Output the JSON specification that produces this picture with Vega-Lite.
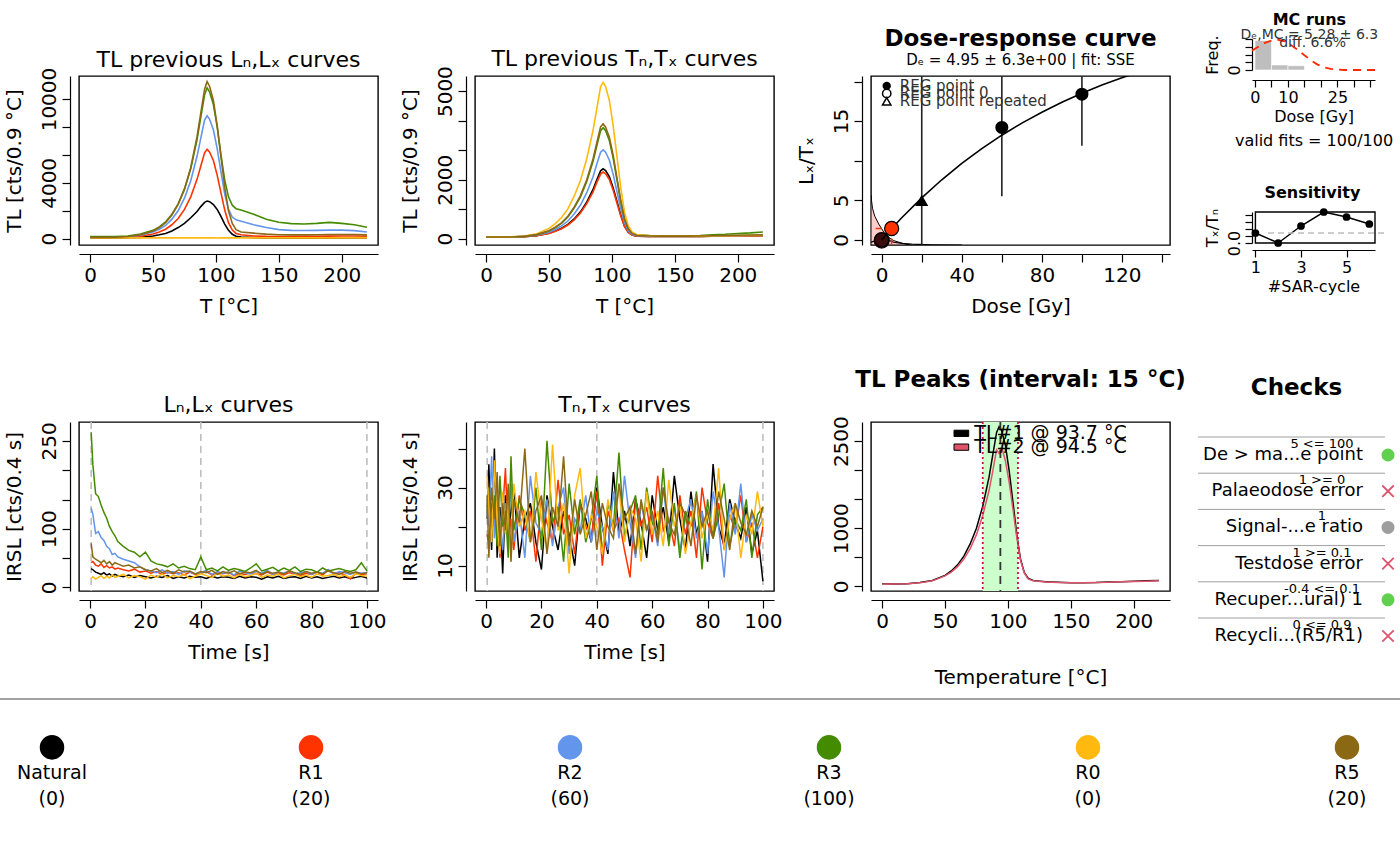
{
  "$schema": "https://vega.github.io/schema/vega-lite/v6.json",
  "autosize": {"type": "none"},
  "padding": {"left": 79, "top": 76, "right": 1321, "bottom": 790},
  "background": "white",
  "bounds": "flush",
  "columns": 4,
  "spacing": {"row": 177, "column": 97},
  "resolve": {"scale": {"color": "independent", "shape": "independent"}},
  "datasets": {
    "tlL": [
      {"T":0,"s":"Natural","v":60},{"T":10,"s":"Natural","v":60},{"T":20,"s":"Natural","v":60},{"T":30,"s":"Natural","v":70},{"T":40,"s":"Natural","v":100},{"T":50,"s":"Natural","v":200},{"T":55,"s":"Natural","v":280},{"T":60,"s":"Natural","v":380},{"T":65,"s":"Natural","v":560},{"T":70,"s":"Natural","v":800},{"T":75,"s":"Natural","v":1100},{"T":80,"s":"Natural","v":1500},{"T":85,"s":"Natural","v":1950},{"T":88,"s":"Natural","v":2300},{"T":91,"s":"Natural","v":2600},{"T":93,"s":"Natural","v":2700},{"T":95,"s":"Natural","v":2650},{"T":98,"s":"Natural","v":2450},{"T":101,"s":"Natural","v":2100},{"T":104,"s":"Natural","v":1600},{"T":107,"s":"Natural","v":1050},{"T":110,"s":"Natural","v":600},{"T":113,"s":"Natural","v":320},{"T":116,"s":"Natural","v":180},{"T":120,"s":"Natural","v":120},{"T":130,"s":"Natural","v":80},{"T":140,"s":"Natural","v":60},{"T":150,"s":"Natural","v":60},{"T":160,"s":"Natural","v":60},{"T":170,"s":"Natural","v":60},{"T":180,"s":"Natural","v":60},{"T":190,"s":"Natural","v":60},{"T":200,"s":"Natural","v":60},{"T":210,"s":"Natural","v":60},{"T":220,"s":"Natural","v":60},
      {"T":0,"s":"R1","v":80},{"T":10,"s":"R1","v":80},{"T":20,"s":"R1","v":90},{"T":30,"s":"R1","v":120},{"T":40,"s":"R1","v":190},{"T":50,"s":"R1","v":340},{"T":55,"s":"R1","v":480},{"T":60,"s":"R1","v":680},{"T":65,"s":"R1","v":1000},{"T":70,"s":"R1","v":1450},{"T":75,"s":"R1","v":2100},{"T":80,"s":"R1","v":3000},{"T":85,"s":"R1","v":4250},{"T":88,"s":"R1","v":5200},{"T":91,"s":"R1","v":6150},{"T":93,"s":"R1","v":6400},{"T":95,"s":"R1","v":6200},{"T":98,"s":"R1","v":5600},{"T":101,"s":"R1","v":4550},{"T":104,"s":"R1","v":3300},{"T":107,"s":"R1","v":2050},{"T":110,"s":"R1","v":1150},{"T":113,"s":"R1","v":620},{"T":116,"s":"R1","v":380},{"T":120,"s":"R1","v":280},{"T":130,"s":"R1","v":200},{"T":140,"s":"R1","v":170},{"T":150,"s":"R1","v":160},{"T":160,"s":"R1","v":160},{"T":170,"s":"R1","v":170},{"T":180,"s":"R1","v":180},{"T":190,"s":"R1","v":190},{"T":200,"s":"R1","v":200},{"T":210,"s":"R1","v":200},{"T":220,"s":"R1","v":180},
      {"T":0,"s":"R2","v":100},{"T":10,"s":"R2","v":100},{"T":20,"s":"R2","v":110},{"T":30,"s":"R2","v":150},{"T":40,"s":"R2","v":250},{"T":50,"s":"R2","v":480},{"T":55,"s":"R2","v":680},{"T":60,"s":"R2","v":950},{"T":65,"s":"R2","v":1400},{"T":70,"s":"R2","v":2000},{"T":75,"s":"R2","v":2900},{"T":80,"s":"R2","v":4150},{"T":85,"s":"R2","v":5900},{"T":88,"s":"R2","v":7200},{"T":91,"s":"R2","v":8500},{"T":93,"s":"R2","v":8800},{"T":95,"s":"R2","v":8550},{"T":98,"s":"R2","v":7800},{"T":101,"s":"R2","v":6450},{"T":104,"s":"R2","v":4800},{"T":107,"s":"R2","v":3200},{"T":110,"s":"R2","v":2100},{"T":113,"s":"R2","v":1550},{"T":116,"s":"R2","v":1350},{"T":120,"s":"R2","v":1250},{"T":130,"s":"R2","v":1000},{"T":140,"s":"R2","v":800},{"T":150,"s":"R2","v":650},{"T":160,"s":"R2","v":600},{"T":170,"s":"R2","v":590},{"T":180,"s":"R2","v":600},{"T":190,"s":"R2","v":620},{"T":200,"s":"R2","v":620},{"T":210,"s":"R2","v":580},{"T":220,"s":"R2","v":480},
      {"T":0,"s":"R3","v":150},{"T":10,"s":"R3","v":150},{"T":20,"s":"R3","v":160},{"T":30,"s":"R3","v":200},{"T":40,"s":"R3","v":330},{"T":50,"s":"R3","v":600},{"T":55,"s":"R3","v":850},{"T":60,"s":"R3","v":1200},{"T":65,"s":"R3","v":1750},{"T":70,"s":"R3","v":2500},{"T":75,"s":"R3","v":3550},{"T":80,"s":"R3","v":5000},{"T":85,"s":"R3","v":7100},{"T":88,"s":"R3","v":8700},{"T":91,"s":"R3","v":10300},{"T":93,"s":"R3","v":10800},{"T":95,"s":"R3","v":10500},{"T":98,"s":"R3","v":9600},{"T":101,"s":"R3","v":8000},{"T":104,"s":"R3","v":6000},{"T":107,"s":"R3","v":4200},{"T":110,"s":"R3","v":3000},{"T":113,"s":"R3","v":2400},{"T":116,"s":"R3","v":2150},{"T":120,"s":"R3","v":2050},{"T":130,"s":"R3","v":1750},{"T":140,"s":"R3","v":1400},{"T":150,"s":"R3","v":1180},{"T":160,"s":"R3","v":1080},{"T":170,"s":"R3","v":1060},{"T":180,"s":"R3","v":1100},{"T":190,"s":"R3","v":1170},{"T":200,"s":"R3","v":1100},{"T":210,"s":"R3","v":1000},{"T":220,"s":"R3","v":820},
      {"T":0,"s":"R0","v":60},{"T":10,"s":"R0","v":62},{"T":20,"s":"R0","v":58},{"T":30,"s":"R0","v":61},{"T":40,"s":"R0","v":60},{"T":50,"s":"R0","v":63},{"T":55,"s":"R0","v":59},{"T":60,"s":"R0","v":62},{"T":65,"s":"R0","v":60},{"T":70,"s":"R0","v":61},{"T":75,"s":"R0","v":64},{"T":80,"s":"R0","v":60},{"T":85,"s":"R0","v":62},{"T":88,"s":"R0","v":59},{"T":91,"s":"R0","v":63},{"T":93,"s":"R0","v":61},{"T":95,"s":"R0","v":60},{"T":98,"s":"R0","v":62},{"T":101,"s":"R0","v":58},{"T":104,"s":"R0","v":61},{"T":107,"s":"R0","v":60},{"T":110,"s":"R0","v":63},{"T":113,"s":"R0","v":59},{"T":116,"s":"R0","v":61},{"T":120,"s":"R0","v":62},{"T":130,"s":"R0","v":60},{"T":140,"s":"R0","v":61},{"T":150,"s":"R0","v":59},{"T":160,"s":"R0","v":62},{"T":170,"s":"R0","v":60},{"T":180,"s":"R0","v":63},{"T":190,"s":"R0","v":61},{"T":200,"s":"R0","v":60},{"T":210,"s":"R0","v":62},{"T":220,"s":"R0","v":61},
      {"T":0,"s":"R5","v":100},{"T":10,"s":"R5","v":100},{"T":20,"s":"R5","v":110},{"T":30,"s":"R5","v":160},{"T":40,"s":"R5","v":280},{"T":50,"s":"R5","v":560},{"T":55,"s":"R5","v":800},{"T":60,"s":"R5","v":1150},{"T":65,"s":"R5","v":1700},{"T":70,"s":"R5","v":2450},{"T":75,"s":"R5","v":3550},{"T":80,"s":"R5","v":5100},{"T":85,"s":"R5","v":7300},{"T":88,"s":"R5","v":9000},{"T":91,"s":"R5","v":10700},{"T":93,"s":"R5","v":11250},{"T":95,"s":"R5","v":10900},{"T":98,"s":"R5","v":9900},{"T":101,"s":"R5","v":8100},{"T":104,"s":"R5","v":5900},{"T":107,"s":"R5","v":3700},{"T":110,"s":"R5","v":2000},{"T":113,"s":"R5","v":1100},{"T":116,"s":"R5","v":650},{"T":120,"s":"R5","v":480},{"T":130,"s":"R5","v":400},{"T":140,"s":"R5","v":330},{"T":150,"s":"R5","v":290},{"T":160,"s":"R5","v":280},{"T":170,"s":"R5","v":280},{"T":180,"s":"R5","v":290},{"T":190,"s":"R5","v":300},{"T":200,"s":"R5","v":300},{"T":210,"s":"R5","v":300},{"T":220,"s":"R5","v":280}
    ],
    "tlT": [
      {"T":0,"s":"Natural","v":55},{"T":10,"s":"Natural","v":55},{"T":20,"s":"Natural","v":58},{"T":30,"s":"Natural","v":70},{"T":40,"s":"Natural","v":105},{"T":50,"s":"Natural","v":185},{"T":55,"s":"Natural","v":260},{"T":60,"s":"Natural","v":355},{"T":65,"s":"Natural","v":485},{"T":70,"s":"Natural","v":670},{"T":75,"s":"Natural","v":910},{"T":80,"s":"Natural","v":1240},{"T":85,"s":"Natural","v":1670},{"T":88,"s":"Natural","v":2000},{"T":91,"s":"Natural","v":2300},{"T":93,"s":"Natural","v":2370},{"T":95,"s":"Natural","v":2310},{"T":98,"s":"Natural","v":2100},{"T":101,"s":"Natural","v":1720},{"T":104,"s":"Natural","v":1270},{"T":107,"s":"Natural","v":810},{"T":110,"s":"Natural","v":430},{"T":113,"s":"Natural","v":220},{"T":116,"s":"Natural","v":130},{"T":120,"s":"Natural","v":90},{"T":130,"s":"Natural","v":80},{"T":140,"s":"Natural","v":75},{"T":150,"s":"Natural","v":75},{"T":160,"s":"Natural","v":75},{"T":170,"s":"Natural","v":80},{"T":180,"s":"Natural","v":85},{"T":190,"s":"Natural","v":90},{"T":200,"s":"Natural","v":95},{"T":210,"s":"Natural","v":95},{"T":220,"s":"Natural","v":100},
      {"T":0,"s":"R1","v":55},{"T":10,"s":"R1","v":55},{"T":20,"s":"R1","v":58},{"T":30,"s":"R1","v":70},{"T":40,"s":"R1","v":100},{"T":50,"s":"R1","v":180},{"T":55,"s":"R1","v":250},{"T":60,"s":"R1","v":340},{"T":65,"s":"R1","v":465},{"T":70,"s":"R1","v":640},{"T":75,"s":"R1","v":870},{"T":80,"s":"R1","v":1190},{"T":85,"s":"R1","v":1590},{"T":88,"s":"R1","v":1910},{"T":91,"s":"R1","v":2190},{"T":93,"s":"R1","v":2260},{"T":95,"s":"R1","v":2200},{"T":98,"s":"R1","v":2000},{"T":101,"s":"R1","v":1640},{"T":104,"s":"R1","v":1210},{"T":107,"s":"R1","v":780},{"T":110,"s":"R1","v":420},{"T":113,"s":"R1","v":210},{"T":116,"s":"R1","v":125},{"T":120,"s":"R1","v":90},{"T":130,"s":"R1","v":80},{"T":140,"s":"R1","v":75},{"T":150,"s":"R1","v":75},{"T":160,"s":"R1","v":75},{"T":170,"s":"R1","v":78},{"T":180,"s":"R1","v":82},{"T":190,"s":"R1","v":88},{"T":200,"s":"R1","v":92},{"T":210,"s":"R1","v":95},{"T":220,"s":"R1","v":98},
      {"T":0,"s":"R2","v":60},{"T":10,"s":"R2","v":60},{"T":20,"s":"R2","v":60},{"T":30,"s":"R2","v":75},{"T":40,"s":"R2","v":120},{"T":50,"s":"R2","v":220},{"T":55,"s":"R2","v":315},{"T":60,"s":"R2","v":435},{"T":65,"s":"R2","v":600},{"T":70,"s":"R2","v":840},{"T":75,"s":"R2","v":1140},{"T":80,"s":"R2","v":1560},{"T":85,"s":"R2","v":2100},{"T":88,"s":"R2","v":2530},{"T":91,"s":"R2","v":2930},{"T":93,"s":"R2","v":3010},{"T":95,"s":"R2","v":2930},{"T":98,"s":"R2","v":2660},{"T":101,"s":"R2","v":2180},{"T":104,"s":"R2","v":1600},{"T":107,"s":"R2","v":1010},{"T":110,"s":"R2","v":540},{"T":113,"s":"R2","v":270},{"T":116,"s":"R2","v":150},{"T":120,"s":"R2","v":100},{"T":130,"s":"R2","v":90},{"T":140,"s":"R2","v":85},{"T":150,"s":"R2","v":85},{"T":160,"s":"R2","v":85},{"T":170,"s":"R2","v":90},{"T":180,"s":"R2","v":95},{"T":190,"s":"R2","v":100},{"T":200,"s":"R2","v":105},{"T":210,"s":"R2","v":110},{"T":220,"s":"R2","v":115},
      {"T":0,"s":"R3","v":60},{"T":10,"s":"R3","v":60},{"T":20,"s":"R3","v":65},{"T":30,"s":"R3","v":80},{"T":40,"s":"R3","v":135},{"T":50,"s":"R3","v":260},{"T":55,"s":"R3","v":380},{"T":60,"s":"R3","v":530},{"T":65,"s":"R3","v":740},{"T":70,"s":"R3","v":1040},{"T":75,"s":"R3","v":1420},{"T":80,"s":"R3","v":1940},{"T":85,"s":"R3","v":2620},{"T":88,"s":"R3","v":3150},{"T":91,"s":"R3","v":3660},{"T":93,"s":"R3","v":3760},{"T":95,"s":"R3","v":3660},{"T":98,"s":"R3","v":3320},{"T":101,"s":"R3","v":2730},{"T":104,"s":"R3","v":1990},{"T":107,"s":"R3","v":1260},{"T":110,"s":"R3","v":660},{"T":113,"s":"R3","v":330},{"T":116,"s":"R3","v":200},{"T":120,"s":"R3","v":130},{"T":130,"s":"R3","v":110},{"T":140,"s":"R3","v":100},{"T":150,"s":"R3","v":100},{"T":160,"s":"R3","v":100},{"T":170,"s":"R3","v":110},{"T":180,"s":"R3","v":130},{"T":190,"s":"R3","v":150},{"T":200,"s":"R3","v":180},{"T":210,"s":"R3","v":200},{"T":220,"s":"R3","v":230},
      {"T":0,"s":"R0","v":60},{"T":10,"s":"R0","v":60},{"T":20,"s":"R0","v":60},{"T":30,"s":"R0","v":85},{"T":40,"s":"R0","v":165},{"T":50,"s":"R0","v":350},{"T":55,"s":"R0","v":510},{"T":60,"s":"R0","v":720},{"T":65,"s":"R0","v":1010},{"T":70,"s":"R0","v":1440},{"T":75,"s":"R0","v":1970},{"T":80,"s":"R0","v":2710},{"T":85,"s":"R0","v":3670},{"T":88,"s":"R0","v":4410},{"T":91,"s":"R0","v":5150},{"T":93,"s":"R0","v":5300},{"T":95,"s":"R0","v":5150},{"T":98,"s":"R0","v":4680},{"T":101,"s":"R0","v":3830},{"T":104,"s":"R0","v":2790},{"T":107,"s":"R0","v":1740},{"T":110,"s":"R0","v":900},{"T":113,"s":"R0","v":430},{"T":116,"s":"R0","v":230},{"T":120,"s":"R0","v":130},{"T":130,"s":"R0","v":100},{"T":140,"s":"R0","v":95},{"T":150,"s":"R0","v":90},{"T":160,"s":"R0","v":90},{"T":170,"s":"R0","v":90},{"T":180,"s":"R0","v":95},{"T":190,"s":"R0","v":100},{"T":200,"s":"R0","v":105},{"T":210,"s":"R0","v":110},{"T":220,"s":"R0","v":110},
      {"T":0,"s":"R5","v":60},{"T":10,"s":"R5","v":60},{"T":20,"s":"R5","v":60},{"T":30,"s":"R5","v":80},{"T":40,"s":"R5","v":140},{"T":50,"s":"R5","v":270},{"T":55,"s":"R5","v":390},{"T":60,"s":"R5","v":540},{"T":65,"s":"R5","v":760},{"T":70,"s":"R5","v":1070},{"T":75,"s":"R5","v":1460},{"T":80,"s":"R5","v":2000},{"T":85,"s":"R5","v":2700},{"T":88,"s":"R5","v":3250},{"T":91,"s":"R5","v":3790},{"T":93,"s":"R5","v":3890},{"T":95,"s":"R5","v":3780},{"T":98,"s":"R5","v":3430},{"T":101,"s":"R5","v":2820},{"T":104,"s":"R5","v":2060},{"T":107,"s":"R5","v":1300},{"T":110,"s":"R5","v":680},{"T":113,"s":"R5","v":340},{"T":116,"s":"R5","v":180},{"T":120,"s":"R5","v":110},{"T":130,"s":"R5","v":95},{"T":140,"s":"R5","v":90},{"T":150,"s":"R5","v":90},{"T":160,"s":"R5","v":90},{"T":170,"s":"R5","v":95},{"T":180,"s":"R5","v":100},{"T":190,"s":"R5","v":110},{"T":200,"s":"R5","v":120},{"T":210,"s":"R5","v":125},{"T":220,"s":"R5","v":130}
    ],
    "pk": [
      {"T":0,"s":"TL#1","v":45},{"T":10,"s":"TL#1","v":40},{"T":20,"s":"TL#1","v":45},{"T":30,"s":"TL#1","v":65},{"T":40,"s":"TL#1","v":100},{"T":50,"s":"TL#1","v":190},{"T":55,"s":"TL#1","v":265},{"T":60,"s":"TL#1","v":370},{"T":65,"s":"TL#1","v":520},{"T":70,"s":"TL#1","v":730},{"T":75,"s":"TL#1","v":1000},{"T":80,"s":"TL#1","v":1380},{"T":85,"s":"TL#1","v":1880},{"T":88,"s":"TL#1","v":2270},{"T":91,"s":"TL#1","v":2650},{"T":93,"s":"TL#1","v":2750},{"T":95,"s":"TL#1","v":2680},{"T":98,"s":"TL#1","v":2430},{"T":101,"s":"TL#1","v":1990},{"T":104,"s":"TL#1","v":1450},{"T":107,"s":"TL#1","v":900},{"T":110,"s":"TL#1","v":470},{"T":113,"s":"TL#1","v":240},{"T":116,"s":"TL#1","v":140},{"T":120,"s":"TL#1","v":100},{"T":130,"s":"TL#1","v":80},{"T":140,"s":"TL#1","v":70},{"T":150,"s":"TL#1","v":60},{"T":160,"s":"TL#1","v":60},{"T":170,"s":"TL#1","v":65},{"T":180,"s":"TL#1","v":75},{"T":190,"s":"TL#1","v":80},{"T":200,"s":"TL#1","v":90},{"T":210,"s":"TL#1","v":95},{"T":220,"s":"TL#1","v":100},
      {"T":0,"s":"TL#2","v":40},{"T":10,"s":"TL#2","v":40},{"T":20,"s":"TL#2","v":45},{"T":30,"s":"TL#2","v":60},{"T":40,"s":"TL#2","v":95},{"T":50,"s":"TL#2","v":180},{"T":55,"s":"TL#2","v":245},{"T":60,"s":"TL#2","v":340},{"T":65,"s":"TL#2","v":470},{"T":70,"s":"TL#2","v":650},{"T":75,"s":"TL#2","v":890},{"T":80,"s":"TL#2","v":1220},{"T":85,"s":"TL#2","v":1650},{"T":88,"s":"TL#2","v":1990},{"T":91,"s":"TL#2","v":2350},{"T":93,"s":"TL#2","v":2290},{"T":95,"s":"TL#2","v":2400},{"T":98,"s":"TL#2","v":2160},{"T":101,"s":"TL#2","v":1790},{"T":104,"s":"TL#2","v":1330},{"T":107,"s":"TL#2","v":850},{"T":110,"s":"TL#2","v":450},{"T":113,"s":"TL#2","v":230},{"T":116,"s":"TL#2","v":130},{"T":120,"s":"TL#2","v":95},{"T":130,"s":"TL#2","v":75},{"T":140,"s":"TL#2","v":65},{"T":150,"s":"TL#2","v":60},{"T":160,"s":"TL#2","v":60},{"T":170,"s":"TL#2","v":65},{"T":180,"s":"TL#2","v":70},{"T":190,"s":"TL#2","v":80},{"T":200,"s":"TL#2","v":85},{"T":210,"s":"TL#2","v":90},{"T":220,"s":"TL#2","v":95}
    ],
    "irL": [
      {"t":0.4,"s":"Natural","v":32},{"t":1,"s":"Natural","v":30},{"t":2,"s":"Natural","v":26},{"t":3,"s":"Natural","v":24},{"t":4,"s":"Natural","v":22},{"t":5,"s":"Natural","v":25},{"t":6,"s":"Natural","v":21},{"t":7,"s":"Natural","v":23},{"t":8,"s":"Natural","v":19},{"t":9,"s":"Natural","v":22},{"t":10,"s":"Natural","v":20},{"t":12,"s":"Natural","v":18},{"t":14,"s":"Natural","v":21},{"t":16,"s":"Natural","v":17},{"t":18,"s":"Natural","v":20},{"t":20,"s":"Natural","v":18},{"t":22,"s":"Natural","v":16},{"t":24,"s":"Natural","v":19},{"t":26,"s":"Natural","v":17},{"t":28,"s":"Natural","v":20},{"t":30,"s":"Natural","v":15},{"t":32,"s":"Natural","v":18},{"t":34,"s":"Natural","v":16},{"t":36,"s":"Natural","v":19},{"t":38,"s":"Natural","v":17},{"t":40,"s":"Natural","v":18},{"t":42,"s":"Natural","v":15},{"t":44,"s":"Natural","v":19},{"t":46,"s":"Natural","v":16},{"t":48,"s":"Natural","v":18},{"t":50,"s":"Natural","v":17},{"t":52,"s":"Natural","v":15},{"t":54,"s":"Natural","v":19},{"t":56,"s":"Natural","v":16},{"t":58,"s":"Natural","v":18},{"t":60,"s":"Natural","v":17},{"t":62,"s":"Natural","v":14},{"t":64,"s":"Natural","v":18},{"t":66,"s":"Natural","v":16},{"t":68,"s":"Natural","v":19},{"t":70,"s":"Natural","v":15},{"t":72,"s":"Natural","v":17},{"t":74,"s":"Natural","v":18},{"t":76,"s":"Natural","v":15},{"t":78,"s":"Natural","v":19},{"t":80,"s":"Natural","v":16},{"t":82,"s":"Natural","v":18},{"t":84,"s":"Natural","v":15},{"t":86,"s":"Natural","v":17},{"t":88,"s":"Natural","v":19},{"t":90,"s":"Natural","v":16},{"t":92,"s":"Natural","v":18},{"t":94,"s":"Natural","v":15},{"t":96,"s":"Natural","v":17},{"t":98,"s":"Natural","v":19},{"t":100,"s":"Natural","v":16},
      {"t":0.4,"s":"R1","v":42},{"t":1,"s":"R1","v":44},{"t":2,"s":"R1","v":38},{"t":3,"s":"R1","v":36},{"t":4,"s":"R1","v":40},{"t":5,"s":"R1","v":34},{"t":6,"s":"R1","v":37},{"t":7,"s":"R1","v":33},{"t":8,"s":"R1","v":35},{"t":9,"s":"R1","v":31},{"t":10,"s":"R1","v":33},{"t":12,"s":"R1","v":30},{"t":14,"s":"R1","v":28},{"t":16,"s":"R1","v":31},{"t":18,"s":"R1","v":26},{"t":20,"s":"R1","v":28},{"t":22,"s":"R1","v":24},{"t":24,"s":"R1","v":27},{"t":26,"s":"R1","v":22},{"t":28,"s":"R1","v":26},{"t":30,"s":"R1","v":23},{"t":32,"s":"R1","v":25},{"t":34,"s":"R1","v":21},{"t":36,"s":"R1","v":26},{"t":38,"s":"R1","v":22},{"t":40,"s":"R1","v":24},{"t":42,"s":"R1","v":27},{"t":44,"s":"R1","v":21},{"t":46,"s":"R1","v":25},{"t":48,"s":"R1","v":23},{"t":50,"s":"R1","v":26},{"t":52,"s":"R1","v":20},{"t":54,"s":"R1","v":24},{"t":56,"s":"R1","v":22},{"t":58,"s":"R1","v":25},{"t":60,"s":"R1","v":23},{"t":62,"s":"R1","v":21},{"t":64,"s":"R1","v":26},{"t":66,"s":"R1","v":22},{"t":68,"s":"R1","v":24},{"t":70,"s":"R1","v":21},{"t":72,"s":"R1","v":25},{"t":74,"s":"R1","v":23},{"t":76,"s":"R1","v":20},{"t":78,"s":"R1","v":24},{"t":80,"s":"R1","v":22},{"t":82,"s":"R1","v":26},{"t":84,"s":"R1","v":21},{"t":86,"s":"R1","v":30},{"t":88,"s":"R1","v":23},{"t":90,"s":"R1","v":25},{"t":92,"s":"R1","v":21},{"t":94,"s":"R1","v":14},{"t":96,"s":"R1","v":24},{"t":98,"s":"R1","v":22},{"t":100,"s":"R1","v":23},
      {"t":0.4,"s":"R2","v":135},{"t":1,"s":"R2","v":125},{"t":2,"s":"R2","v":92},{"t":3,"s":"R2","v":95},{"t":4,"s":"R2","v":85},{"t":5,"s":"R2","v":80},{"t":6,"s":"R2","v":70},{"t":7,"s":"R2","v":66},{"t":8,"s":"R2","v":56},{"t":9,"s":"R2","v":58},{"t":10,"s":"R2","v":52},{"t":12,"s":"R2","v":48},{"t":14,"s":"R2","v":45},{"t":16,"s":"R2","v":42},{"t":18,"s":"R2","v":35},{"t":20,"s":"R2","v":30},{"t":22,"s":"R2","v":28},{"t":24,"s":"R2","v":25},{"t":26,"s":"R2","v":30},{"t":28,"s":"R2","v":24},{"t":30,"s":"R2","v":27},{"t":32,"s":"R2","v":22},{"t":34,"s":"R2","v":28},{"t":36,"s":"R2","v":26},{"t":38,"s":"R2","v":23},{"t":40,"s":"R2","v":25},{"t":42,"s":"R2","v":29},{"t":44,"s":"R2","v":22},{"t":46,"s":"R2","v":27},{"t":48,"s":"R2","v":24},{"t":50,"s":"R2","v":26},{"t":52,"s":"R2","v":21},{"t":54,"s":"R2","v":28},{"t":56,"s":"R2","v":25},{"t":58,"s":"R2","v":23},{"t":60,"s":"R2","v":27},{"t":62,"s":"R2","v":24},{"t":64,"s":"R2","v":29},{"t":66,"s":"R2","v":22},{"t":68,"s":"R2","v":26},{"t":70,"s":"R2","v":24},{"t":72,"s":"R2","v":28},{"t":74,"s":"R2","v":23},{"t":76,"s":"R2","v":25},{"t":78,"s":"R2","v":27},{"t":80,"s":"R2","v":22},{"t":82,"s":"R2","v":26},{"t":84,"s":"R2","v":24},{"t":86,"s":"R2","v":30},{"t":88,"s":"R2","v":23},{"t":90,"s":"R2","v":27},{"t":92,"s":"R2","v":25},{"t":94,"s":"R2","v":22},{"t":96,"s":"R2","v":26},{"t":98,"s":"R2","v":24},{"t":100,"s":"R2","v":25},
      {"t":0.4,"s":"R3","v":265},{"t":1,"s":"R3","v":210},{"t":2,"s":"R3","v":160},{"t":3,"s":"R3","v":155},{"t":4,"s":"R3","v":140},{"t":5,"s":"R3","v":128},{"t":6,"s":"R3","v":118},{"t":7,"s":"R3","v":104},{"t":8,"s":"R3","v":95},{"t":9,"s":"R3","v":88},{"t":10,"s":"R3","v":78},{"t":12,"s":"R3","v":70},{"t":14,"s":"R3","v":63},{"t":16,"s":"R3","v":60},{"t":18,"s":"R3","v":52},{"t":20,"s":"R3","v":60},{"t":22,"s":"R3","v":45},{"t":24,"s":"R3","v":40},{"t":26,"s":"R3","v":38},{"t":28,"s":"R3","v":35},{"t":30,"s":"R3","v":40},{"t":32,"s":"R3","v":33},{"t":34,"s":"R3","v":36},{"t":36,"s":"R3","v":32},{"t":38,"s":"R3","v":30},{"t":40,"s":"R3","v":52},{"t":42,"s":"R3","v":30},{"t":44,"s":"R3","v":33},{"t":46,"s":"R3","v":28},{"t":48,"s":"R3","v":35},{"t":50,"s":"R3","v":29},{"t":52,"s":"R3","v":32},{"t":54,"s":"R3","v":30},{"t":56,"s":"R3","v":27},{"t":58,"s":"R3","v":33},{"t":60,"s":"R3","v":40},{"t":62,"s":"R3","v":28},{"t":64,"s":"R3","v":31},{"t":66,"s":"R3","v":34},{"t":68,"s":"R3","v":28},{"t":70,"s":"R3","v":33},{"t":72,"s":"R3","v":29},{"t":74,"s":"R3","v":35},{"t":76,"s":"R3","v":27},{"t":78,"s":"R3","v":31},{"t":80,"s":"R3","v":30},{"t":82,"s":"R3","v":26},{"t":84,"s":"R3","v":33},{"t":86,"s":"R3","v":28},{"t":88,"s":"R3","v":30},{"t":90,"s":"R3","v":32},{"t":92,"s":"R3","v":29},{"t":94,"s":"R3","v":27},{"t":96,"s":"R3","v":30},{"t":98,"s":"R3","v":42},{"t":100,"s":"R3","v":28},
      {"t":0.4,"s":"R0","v":15},{"t":1,"s":"R0","v":18},{"t":2,"s":"R0","v":14},{"t":3,"s":"R0","v":17},{"t":4,"s":"R0","v":20},{"t":5,"s":"R0","v":15},{"t":6,"s":"R0","v":19},{"t":7,"s":"R0","v":16},{"t":8,"s":"R0","v":21},{"t":9,"s":"R0","v":17},{"t":10,"s":"R0","v":19},{"t":12,"s":"R0","v":22},{"t":14,"s":"R0","v":16},{"t":16,"s":"R0","v":20},{"t":18,"s":"R0","v":18},{"t":20,"s":"R0","v":14},{"t":22,"s":"R0","v":21},{"t":24,"s":"R0","v":17},{"t":26,"s":"R0","v":23},{"t":28,"s":"R0","v":16},{"t":30,"s":"R0","v":20},{"t":32,"s":"R0","v":18},{"t":34,"s":"R0","v":22},{"t":36,"s":"R0","v":15},{"t":38,"s":"R0","v":19},{"t":40,"s":"R0","v":23},{"t":42,"s":"R0","v":20},{"t":44,"s":"R0","v":17},{"t":46,"s":"R0","v":24},{"t":48,"s":"R0","v":19},{"t":50,"s":"R0","v":21},{"t":52,"s":"R0","v":16},{"t":54,"s":"R0","v":22},{"t":56,"s":"R0","v":18},{"t":58,"s":"R0","v":20},{"t":60,"s":"R0","v":24},{"t":62,"s":"R0","v":17},{"t":64,"s":"R0","v":21},{"t":66,"s":"R0","v":19},{"t":68,"s":"R0","v":23},{"t":70,"s":"R0","v":16},{"t":72,"s":"R0","v":20},{"t":74,"s":"R0","v":22},{"t":76,"s":"R0","v":18},{"t":78,"s":"R0","v":21},{"t":80,"s":"R0","v":17},{"t":82,"s":"R0","v":23},{"t":84,"s":"R0","v":19},{"t":86,"s":"R0","v":20},{"t":88,"s":"R0","v":22},{"t":90,"s":"R0","v":18},{"t":92,"s":"R0","v":21},{"t":94,"s":"R0","v":17},{"t":96,"s":"R0","v":23},{"t":98,"s":"R0","v":20},{"t":100,"s":"R0","v":19},
      {"t":0.4,"s":"R5","v":75},{"t":1,"s":"R5","v":52},{"t":2,"s":"R5","v":48},{"t":3,"s":"R5","v":45},{"t":4,"s":"R5","v":42},{"t":5,"s":"R5","v":46},{"t":6,"s":"R5","v":40},{"t":7,"s":"R5","v":44},{"t":8,"s":"R5","v":38},{"t":9,"s":"R5","v":42},{"t":10,"s":"R5","v":40},{"t":12,"s":"R5","v":36},{"t":14,"s":"R5","v":38},{"t":16,"s":"R5","v":33},{"t":18,"s":"R5","v":35},{"t":20,"s":"R5","v":30},{"t":22,"s":"R5","v":28},{"t":24,"s":"R5","v":32},{"t":26,"s":"R5","v":25},{"t":28,"s":"R5","v":29},{"t":30,"s":"R5","v":24},{"t":32,"s":"R5","v":30},{"t":34,"s":"R5","v":26},{"t":36,"s":"R5","v":28},{"t":38,"s":"R5","v":23},{"t":40,"s":"R5","v":27},{"t":42,"s":"R5","v":25},{"t":44,"s":"R5","v":29},{"t":46,"s":"R5","v":22},{"t":48,"s":"R5","v":27},{"t":50,"s":"R5","v":24},{"t":52,"s":"R5","v":28},{"t":54,"s":"R5","v":23},{"t":56,"s":"R5","v":26},{"t":58,"s":"R5","v":25},{"t":60,"s":"R5","v":29},{"t":62,"s":"R5","v":22},{"t":64,"s":"R5","v":27},{"t":66,"s":"R5","v":24},{"t":68,"s":"R5","v":26},{"t":70,"s":"R5","v":23},{"t":72,"s":"R5","v":28},{"t":74,"s":"R5","v":25},{"t":76,"s":"R5","v":22},{"t":78,"s":"R5","v":27},{"t":80,"s":"R5","v":24},{"t":82,"s":"R5","v":26},{"t":84,"s":"R5","v":23},{"t":86,"s":"R5","v":28},{"t":88,"s":"R5","v":25},{"t":90,"s":"R5","v":22},{"t":92,"s":"R5","v":27},{"t":94,"s":"R5","v":24},{"t":96,"s":"R5","v":26},{"t":98,"s":"R5","v":23},{"t":100,"s":"R5","v":25}
    ],
    "irT": [
      {"t":0.4,"s":"Natural","v":22},{"t":1,"s":"Natural","v":36},{"t":2,"s":"Natural","v":14},{"t":3,"s":"Natural","v":40},{"t":4,"s":"Natural","v":12},{"t":5,"s":"Natural","v":25},{"t":6,"s":"Natural","v":8},{"t":7,"s":"Natural","v":28},{"t":8,"s":"Natural","v":18},{"t":9,"s":"Natural","v":24},{"t":10,"s":"Natural","v":30},{"t":12,"s":"Natural","v":12},{"t":14,"s":"Natural","v":22},{"t":16,"s":"Natural","v":26},{"t":18,"s":"Natural","v":16},{"t":20,"s":"Natural","v":9},{"t":22,"s":"Natural","v":28},{"t":24,"s":"Natural","v":20},{"t":26,"s":"Natural","v":14},{"t":28,"s":"Natural","v":24},{"t":30,"s":"Natural","v":18},{"t":32,"s":"Natural","v":10},{"t":34,"s":"Natural","v":26},{"t":36,"s":"Natural","v":22},{"t":38,"s":"Natural","v":16},{"t":40,"s":"Natural","v":30},{"t":42,"s":"Natural","v":20},{"t":44,"s":"Natural","v":13},{"t":46,"s":"Natural","v":34},{"t":48,"s":"Natural","v":18},{"t":50,"s":"Natural","v":24},{"t":52,"s":"Natural","v":15},{"t":54,"s":"Natural","v":27},{"t":56,"s":"Natural","v":21},{"t":58,"s":"Natural","v":12},{"t":60,"s":"Natural","v":28},{"t":62,"s":"Natural","v":19},{"t":64,"s":"Natural","v":25},{"t":66,"s":"Natural","v":16},{"t":68,"s":"Natural","v":33},{"t":70,"s":"Natural","v":22},{"t":72,"s":"Natural","v":14},{"t":74,"s":"Natural","v":29},{"t":76,"s":"Natural","v":18},{"t":78,"s":"Natural","v":24},{"t":80,"s":"Natural","v":11},{"t":82,"s":"Natural","v":36},{"t":84,"s":"Natural","v":20},{"t":86,"s":"Natural","v":15},{"t":88,"s":"Natural","v":27},{"t":90,"s":"Natural","v":21},{"t":92,"s":"Natural","v":17},{"t":94,"s":"Natural","v":25},{"t":96,"s":"Natural","v":13},{"t":98,"s":"Natural","v":19},{"t":100,"s":"Natural","v":6},
      {"t":0.4,"s":"R1","v":18},{"t":1,"s":"R1","v":15},{"t":2,"s":"R1","v":26},{"t":3,"s":"R1","v":20},{"t":4,"s":"R1","v":30},{"t":5,"s":"R1","v":12},{"t":6,"s":"R1","v":24},{"t":7,"s":"R1","v":35},{"t":8,"s":"R1","v":16},{"t":9,"s":"R1","v":22},{"t":10,"s":"R1","v":14},{"t":12,"s":"R1","v":28},{"t":14,"s":"R1","v":19},{"t":16,"s":"R1","v":24},{"t":18,"s":"R1","v":11},{"t":20,"s":"R1","v":27},{"t":22,"s":"R1","v":21},{"t":24,"s":"R1","v":16},{"t":26,"s":"R1","v":32},{"t":28,"s":"R1","v":18},{"t":30,"s":"R1","v":23},{"t":32,"s":"R1","v":13},{"t":34,"s":"R1","v":26},{"t":36,"s":"R1","v":20},{"t":38,"s":"R1","v":17},{"t":40,"s":"R1","v":29},{"t":42,"s":"R1","v":10},{"t":44,"s":"R1","v":24},{"t":46,"s":"R1","v":19},{"t":48,"s":"R1","v":22},{"t":50,"s":"R1","v":14},{"t":52,"s":"R1","v":7},{"t":54,"s":"R1","v":27},{"t":56,"s":"R1","v":20},{"t":58,"s":"R1","v":25},{"t":60,"s":"R1","v":16},{"t":62,"s":"R1","v":33},{"t":64,"s":"R1","v":19},{"t":66,"s":"R1","v":22},{"t":68,"s":"R1","v":15},{"t":70,"s":"R1","v":28},{"t":72,"s":"R1","v":18},{"t":74,"s":"R1","v":24},{"t":76,"s":"R1","v":12},{"t":78,"s":"R1","v":30},{"t":80,"s":"R1","v":21},{"t":82,"s":"R1","v":17},{"t":84,"s":"R1","v":26},{"t":86,"s":"R1","v":14},{"t":88,"s":"R1","v":23},{"t":90,"s":"R1","v":19},{"t":92,"s":"R1","v":28},{"t":94,"s":"R1","v":16},{"t":96,"s":"R1","v":21},{"t":98,"s":"R1","v":12},{"t":100,"s":"R1","v":20},
      {"t":0.4,"s":"R2","v":27},{"t":1,"s":"R2","v":20},{"t":2,"s":"R2","v":38},{"t":3,"s":"R2","v":17},{"t":4,"s":"R2","v":29},{"t":5,"s":"R2","v":22},{"t":6,"s":"R2","v":14},{"t":7,"s":"R2","v":26},{"t":8,"s":"R2","v":19},{"t":9,"s":"R2","v":31},{"t":10,"s":"R2","v":16},{"t":12,"s":"R2","v":24},{"t":14,"s":"R2","v":12},{"t":16,"s":"R2","v":33},{"t":18,"s":"R2","v":21},{"t":20,"s":"R2","v":18},{"t":22,"s":"R2","v":27},{"t":24,"s":"R2","v":15},{"t":26,"s":"R2","v":25},{"t":28,"s":"R2","v":30},{"t":30,"s":"R2","v":13},{"t":32,"s":"R2","v":22},{"t":34,"s":"R2","v":19},{"t":36,"s":"R2","v":28},{"t":38,"s":"R2","v":16},{"t":40,"s":"R2","v":24},{"t":42,"s":"R2","v":20},{"t":44,"s":"R2","v":14},{"t":46,"s":"R2","v":29},{"t":48,"s":"R2","v":17},{"t":50,"s":"R2","v":33},{"t":52,"s":"R2","v":21},{"t":54,"s":"R2","v":12},{"t":56,"s":"R2","v":26},{"t":58,"s":"R2","v":19},{"t":60,"s":"R2","v":23},{"t":62,"s":"R2","v":15},{"t":64,"s":"R2","v":30},{"t":66,"s":"R2","v":18},{"t":68,"s":"R2","v":25},{"t":70,"s":"R2","v":14},{"t":72,"s":"R2","v":22},{"t":74,"s":"R2","v":27},{"t":76,"s":"R2","v":17},{"t":78,"s":"R2","v":24},{"t":80,"s":"R2","v":13},{"t":82,"s":"R2","v":29},{"t":84,"s":"R2","v":20},{"t":86,"s":"R2","v":7},{"t":88,"s":"R2","v":26},{"t":90,"s":"R2","v":18},{"t":92,"s":"R2","v":31},{"t":94,"s":"R2","v":16},{"t":96,"s":"R2","v":23},{"t":98,"s":"R2","v":19},{"t":100,"s":"R2","v":22},
      {"t":0.4,"s":"R3","v":25},{"t":1,"s":"R3","v":30},{"t":2,"s":"R3","v":18},{"t":3,"s":"R3","v":28},{"t":4,"s":"R3","v":15},{"t":5,"s":"R3","v":33},{"t":6,"s":"R3","v":20},{"t":7,"s":"R3","v":24},{"t":8,"s":"R3","v":12},{"t":9,"s":"R3","v":38},{"t":10,"s":"R3","v":19},{"t":12,"s":"R3","v":27},{"t":14,"s":"R3","v":23},{"t":16,"s":"R3","v":16},{"t":18,"s":"R3","v":30},{"t":20,"s":"R3","v":14},{"t":22,"s":"R3","v":42},{"t":24,"s":"R3","v":21},{"t":26,"s":"R3","v":25},{"t":28,"s":"R3","v":11},{"t":30,"s":"R3","v":31},{"t":32,"s":"R3","v":18},{"t":34,"s":"R3","v":27},{"t":36,"s":"R3","v":16},{"t":38,"s":"R3","v":22},{"t":40,"s":"R3","v":33},{"t":42,"s":"R3","v":13},{"t":44,"s":"R3","v":26},{"t":46,"s":"R3","v":20},{"t":48,"s":"R3","v":39},{"t":50,"s":"R3","v":17},{"t":52,"s":"R3","v":24},{"t":54,"s":"R3","v":28},{"t":56,"s":"R3","v":14},{"t":58,"s":"R3","v":30},{"t":60,"s":"R3","v":21},{"t":62,"s":"R3","v":18},{"t":64,"s":"R3","v":35},{"t":66,"s":"R3","v":15},{"t":68,"s":"R3","v":26},{"t":70,"s":"R3","v":12},{"t":72,"s":"R3","v":24},{"t":74,"s":"R3","v":20},{"t":76,"s":"R3","v":29},{"t":78,"s":"R3","v":9},{"t":80,"s":"R3","v":27},{"t":82,"s":"R3","v":17},{"t":84,"s":"R3","v":23},{"t":86,"s":"R3","v":31},{"t":88,"s":"R3","v":15},{"t":90,"s":"R3","v":22},{"t":92,"s":"R3","v":19},{"t":94,"s":"R3","v":27},{"t":96,"s":"R3","v":12},{"t":98,"s":"R3","v":23},{"t":100,"s":"R3","v":25},
      {"t":0.4,"s":"R0","v":33},{"t":1,"s":"R0","v":24},{"t":2,"s":"R0","v":16},{"t":3,"s":"R0","v":37},{"t":4,"s":"R0","v":21},{"t":5,"s":"R0","v":13},{"t":6,"s":"R0","v":29},{"t":7,"s":"R0","v":18},{"t":8,"s":"R0","v":26},{"t":9,"s":"R0","v":11},{"t":10,"s":"R0","v":31},{"t":12,"s":"R0","v":20},{"t":14,"s":"R0","v":24},{"t":16,"s":"R0","v":16},{"t":18,"s":"R0","v":34},{"t":20,"s":"R0","v":22},{"t":22,"s":"R0","v":14},{"t":24,"s":"R0","v":41},{"t":26,"s":"R0","v":19},{"t":28,"s":"R0","v":26},{"t":30,"s":"R0","v":8},{"t":32,"s":"R0","v":28},{"t":34,"s":"R0","v":35},{"t":36,"s":"R0","v":17},{"t":38,"s":"R0","v":23},{"t":40,"s":"R0","v":20},{"t":42,"s":"R0","v":13},{"t":44,"s":"R0","v":27},{"t":46,"s":"R0","v":19},{"t":48,"s":"R0","v":30},{"t":50,"s":"R0","v":16},{"t":52,"s":"R0","v":25},{"t":54,"s":"R0","v":22},{"t":56,"s":"R0","v":11},{"t":58,"s":"R0","v":29},{"t":60,"s":"R0","v":18},{"t":62,"s":"R0","v":24},{"t":64,"s":"R0","v":15},{"t":66,"s":"R0","v":32},{"t":68,"s":"R0","v":20},{"t":70,"s":"R0","v":26},{"t":72,"s":"R0","v":13},{"t":74,"s":"R0","v":21},{"t":76,"s":"R0","v":28},{"t":78,"s":"R0","v":17},{"t":80,"s":"R0","v":24},{"t":82,"s":"R0","v":19},{"t":84,"s":"R0","v":35},{"t":86,"s":"R0","v":14},{"t":88,"s":"R0","v":22},{"t":90,"s":"R0","v":26},{"t":92,"s":"R0","v":12},{"t":94,"s":"R0","v":23},{"t":96,"s":"R0","v":18},{"t":98,"s":"R0","v":29},{"t":100,"s":"R0","v":20},
      {"t":0.4,"s":"R5","v":28},{"t":1,"s":"R5","v":12},{"t":2,"s":"R5","v":30},{"t":3,"s":"R5","v":22},{"t":4,"s":"R5","v":34},{"t":5,"s":"R5","v":15},{"t":6,"s":"R5","v":26},{"t":7,"s":"R5","v":19},{"t":8,"s":"R5","v":31},{"t":9,"s":"R5","v":11},{"t":10,"s":"R5","v":27},{"t":12,"s":"R5","v":21},{"t":14,"s":"R5","v":40},{"t":16,"s":"R5","v":16},{"t":18,"s":"R5","v":24},{"t":20,"s":"R5","v":28},{"t":22,"s":"R5","v":13},{"t":24,"s":"R5","v":25},{"t":26,"s":"R5","v":20},{"t":28,"s":"R5","v":38},{"t":30,"s":"R5","v":15},{"t":32,"s":"R5","v":27},{"t":34,"s":"R5","v":18},{"t":36,"s":"R5","v":23},{"t":38,"s":"R5","v":29},{"t":40,"s":"R5","v":14},{"t":42,"s":"R5","v":26},{"t":44,"s":"R5","v":20},{"t":46,"s":"R5","v":17},{"t":48,"s":"R5","v":31},{"t":50,"s":"R5","v":22},{"t":52,"s":"R5","v":25},{"t":54,"s":"R5","v":13},{"t":56,"s":"R5","v":27},{"t":58,"s":"R5","v":19},{"t":60,"s":"R5","v":24},{"t":62,"s":"R5","v":16},{"t":64,"s":"R5","v":30},{"t":66,"s":"R5","v":21},{"t":68,"s":"R5","v":18},{"t":70,"s":"R5","v":26},{"t":72,"s":"R5","v":23},{"t":74,"s":"R5","v":15},{"t":76,"s":"R5","v":28},{"t":78,"s":"R5","v":20},{"t":80,"s":"R5","v":24},{"t":82,"s":"R5","v":17},{"t":84,"s":"R5","v":29},{"t":86,"s":"R5","v":22},{"t":88,"s":"R5","v":14},{"t":90,"s":"R5","v":26},{"t":92,"s":"R5","v":21},{"t":94,"s":"R5","v":18},{"t":96,"s":"R5","v":24},{"t":98,"s":"R5","v":20},{"t":100,"s":"R5","v":25}
    ],
    "fit": [
      {"x":0,"y":0},{"x":5,"y":1.43},{"x":10,"y":2.79},{"x":20,"y":5.31},{"x":30,"y":7.59},{"x":40,"y":9.66},{"x":50,"y":11.53},{"x":60,"y":13.22},{"x":70,"y":14.75},{"x":80,"y":16.13},{"x":90,"y":17.39},{"x":100,"y":18.52},{"x":110,"y":19.55},{"x":120,"y":20.48},{"x":130,"y":21.32},{"x":140,"y":22.08}
    ],
    "dens": [
      {"ly":-0.65,"dx":14},{"ly":-0.4,"dx":10},{"ly":-0.1,"dx":6},{"ly":0.3,"dx":3.5},{"ly":0.8,"dx":1.5},{"ly":1.4,"dx":0},{"ly":2,"dx":-1.5},{"ly":3,"dx":-3.5},{"ly":4,"dx":-4.6},{"ly":5,"dx":-5.1},{"ly":5.6,"dx":-5.35}
    ],
    "mcd": [
      {"x":-5.35,"y":-0.3},{"x":-3,"y":-0.1},{"x":-1,"y":0.15},{"x":1,"y":0.2},{"x":3,"y":0},{"x":6,"y":-0.3},{"x":10,"y":-0.45},{"x":15,"y":-0.55},{"x":25,"y":-0.62},{"x":40,"y":-0.65}
    ],
    "errs": [
      {"d":20,"lo":-5,"hi":35},{"d":60,"lo":5.5,"hi":22.9},{"d":100,"lo":11.9,"hi":25.1}
    ],
    "reg": [
      {"d":20,"r":5.0,"k":"rep"},{"d":60,"r":14.2,"k":"reg"},{"d":100,"r":18.4,"k":"reg"}
    ],
    "de": [{"d":4.95,"r":1.43}],
    "intv": [{"lo":80,"hi":108,"pk":94}],
    "mcHist": [{"lo":0,"hi":5,"n":76},{"lo":5,"hi":10,"n":13},{"lo":10,"hi":15,"n":11}],
    "mcCurve": [
      {"x":-0.9,"y":50},{"x":1,"y":60},{"x":3,"y":70},{"x":5,"y":76},{"x":7,"y":78},{"x":9,"y":74},{"x":11,"y":64},{"x":13,"y":52},{"x":15,"y":38},{"x":17,"y":25},{"x":19,"y":14},{"x":21,"y":7},{"x":23,"y":3},{"x":25,"y":1},{"x":27,"y":0},{"x":30,"y":0},{"x":33,"y":0},{"x":36.4,"y":0}
    ],
    "sens": [
      {"c":1,"r":1.0},{"c":2,"r":0.8},{"c":3,"r":1.14},{"c":4,"r":1.42},{"c":5,"r":1.32},{"c":6,"r":1.18}
    ],
    "checks": [
      {"k":1,"label":"De > ma...e point","crit":"5 <= 100","st":"ok"},
      {"k":2,"label":"Palaeodose error","crit":"1 >= 0","st":"fail"},
      {"k":3,"label":"Signal-...e ratio","crit":"1","st":"na"},
      {"k":4,"label":"Testdose error","crit":"1 >= 0.1","st":"fail"},
      {"k":5,"label":"Recuper...ural) 1","crit":"-0.4 <= 0.1","st":"ok"},
      {"k":6,"label":"Recycli...(R5/R1)","crit":"0 <= 0.9","st":"fail"}
    ],
    "series": [
      {"s":"Natural","i":1,"dose":"(0)"},{"s":"R1","i":2,"dose":"(20)"},{"s":"R2","i":3,"dose":"(60)"},{"s":"R3","i":4,"dose":"(100)"},{"s":"R0","i":5,"dose":"(0)"},{"s":"R5","i":6,"dose":"(20)"}
    ]
  },
  "concat": [
    {
      "width": 299, "height": 169,
      "title": {"text": "TL previous Lₙ,Lₓ curves", "offset": -5},
      "data": {"name": "tlL"},
      "mark": {"type": "line", "clip": true, "strokeWidth": 1.6},
      "encoding": {
        "x": {"field": "T", "type": "quantitative", "title": "T [°C]", "scale": {"domain": [-8.8, 228.8], "nice": false, "zero": false}, "axis": {"values": [0, 50, 100, 150, 200], "labelOverlap": false}},
        "y": {"field": "v", "type": "quantitative", "title": "TL [cts/0.9 °C]", "scale": {"domain": [-448, 11648], "nice": false, "zero": false}, "axis": {"values": [0, 2000, 4000, 6000, 8000, 10000], "format": "d", "labelOverlap": false, "labelExpr": "datum.value==0||datum.value==4000||datum.value==10000?datum.label:''"}},
        "color": {"field": "s", "type": "nominal", "scale": {"domain": ["Natural", "R1", "R2", "R3", "R0", "R5"], "range": ["#000000", "#FF3300", "#6495ED", "#458B00", "#FFB90F", "#8B6914"]}, "legend": null}
      }
    },
    {
      "width": 299, "height": 169,
      "title": {"text": "TL previous Tₙ,Tₓ curves", "offset": -5},
      "data": {"name": "tlT"},
      "mark": {"type": "line", "clip": true, "strokeWidth": 1.6},
      "encoding": {
        "x": {"field": "T", "type": "quantitative", "title": "T [°C]", "scale": {"domain": [-8.8, 228.8], "nice": false, "zero": false}, "axis": {"values": [0, 50, 100, 150, 200], "labelOverlap": false}},
        "y": {"field": "v", "type": "quantitative", "title": "TL [cts/0.9 °C]", "scale": {"domain": [-212, 5512], "nice": false, "zero": false}, "axis": {"values": [0, 1000, 2000, 3000, 4000, 5000], "format": "d", "labelOverlap": false, "labelExpr": "datum.value==0||datum.value==2000||datum.value==5000?datum.label:''"}},
        "color": {"field": "s", "type": "nominal", "scale": {"domain": ["Natural", "R1", "R2", "R3", "R0", "R5"], "range": ["#000000", "#FF3300", "#6495ED", "#458B00", "#FFB90F", "#8B6914"]}, "legend": null}
      }
    },
    {
      "width": 299, "height": 169,
      "title": {"text": "Dose-response curve", "subtitle": "Dₑ = 4.95 ± 6.3e+00  |  fit: SSE", "fontWeight": "bold", "fontSize": 23, "subtitleFontSize": 15, "subtitlePadding": 2, "offset": 8},
      "layer": [
        {
          "data": {"name": "dens"},
          "mark": {"type": "area", "orient": "horizontal", "fill": "#FFCCCC", "stroke": "black", "strokeWidth": 1, "clip": true},
          "encoding": {
            "x": {"field": "dx", "type": "quantitative", "title": "Dose [Gy]", "scale": {"domain": [-5.35, 144], "nice": false, "zero": false}, "axis": {"values": [0, 20, 40, 60, 80, 100, 120, 140], "labelOverlap": false, "labelExpr": "datum.value%40==0?datum.label:''"}},
            "x2": {"datum": -5.35},
            "y": {"field": "ly", "type": "quantitative", "title": "Lₓ/Tₓ", "scale": {"domain": [-0.65, 20.7], "nice": false, "zero": false}, "axis": {"values": [0, 5, 10, 15, 20], "labelOverlap": false, "labelExpr": "datum.value==10||datum.value==20?'':datum.label"}}
          }
        },
        {
          "data": {"name": "mcd"},
          "mark": {"type": "line", "color": "black", "strokeWidth": 1.2, "clip": true},
          "encoding": {"x": {"field": "x", "type": "quantitative"}, "y": {"field": "y", "type": "quantitative"}}
        },
        {
          "data": {"values": [{}]},
          "mark": {"type": "point", "filled": true, "size": 260, "color": "#3D0B0B", "opacity": 1},
          "encoding": {"x": {"datum": 0, "type": "quantitative"}, "y": {"datum": -0.1, "type": "quantitative"}}
        },
        {
          "data": {"name": "de"},
          "mark": {"type": "rule", "color": "#FF3300", "strokeDash": [6, 4], "strokeWidth": 1.5},
          "encoding": {"x": {"field": "d", "type": "quantitative"}, "x2": {"datum": -5.35}, "y": {"field": "r", "type": "quantitative"}}
        },
        {
          "data": {"name": "de"},
          "mark": {"type": "rule", "color": "#FF3300", "strokeDash": [6, 4], "strokeWidth": 1.5},
          "encoding": {"x": {"field": "d", "type": "quantitative"}, "y": {"field": "r", "type": "quantitative"}, "y2": {"datum": -0.65}}
        },
        {
          "data": {"name": "errs"},
          "mark": {"type": "rule", "color": "#222222", "strokeWidth": 1.6, "clip": true},
          "encoding": {"x": {"field": "d", "type": "quantitative"}, "y": {"field": "lo", "type": "quantitative"}, "y2": {"field": "hi"}}
        },
        {
          "data": {"name": "fit"},
          "mark": {"type": "line", "color": "black", "strokeWidth": 1.6, "clip": true},
          "encoding": {"x": {"field": "x", "type": "quantitative"}, "y": {"field": "y", "type": "quantitative"}}
        },
        {
          "data": {"name": "reg"},
          "mark": {"type": "point", "filled": true, "size": 170, "color": "black", "opacity": 1},
          "encoding": {
            "x": {"field": "d", "type": "quantitative"},
            "y": {"field": "r", "type": "quantitative"},
            "shape": {"field": "k", "type": "nominal", "scale": {"domain": ["reg", "rep"], "range": ["circle", "triangle-up"]}, "legend": null}
          }
        },
        {
          "data": {"name": "de"},
          "mark": {"type": "point", "filled": true, "size": 200, "fill": "#FF3300", "stroke": "black", "strokeWidth": 1.2, "opacity": 1},
          "encoding": {"x": {"field": "d", "type": "quantitative"}, "y": {"field": "r", "type": "quantitative"}}
        },
        {
          "data": {"values": [{}]},
          "mark": {"type": "point", "filled": false, "size": 200, "color": "black", "strokeWidth": 1.5, "opacity": 1},
          "encoding": {"x": {"datum": 0, "type": "quantitative"}, "y": {"datum": 0, "type": "quantitative"}}
        },
        {
          "data": {"values": [{}]},
          "mark": {"type": "point", "filled": true, "size": 70, "color": "black", "opacity": 1},
          "encoding": {"x": {"datum": 2.5, "type": "quantitative"}, "y": {"datum": 19.45, "type": "quantitative"}}
        },
        {
          "data": {"values": [{}]},
          "mark": {"type": "point", "filled": false, "size": 70, "color": "black", "strokeWidth": 1.5, "opacity": 1},
          "encoding": {"x": {"datum": 2.5, "type": "quantitative"}, "y": {"datum": 18.5, "type": "quantitative"}}
        },
        {
          "data": {"values": [{}]},
          "mark": {"type": "point", "shape": "triangle-up", "filled": false, "size": 70, "color": "black", "strokeWidth": 1.5, "opacity": 1},
          "encoding": {"x": {"datum": 2.5, "type": "quantitative"}, "y": {"datum": 17.5, "type": "quantitative"}}
        },
        {
          "data": {"values": [{}]},
          "mark": {"type": "text", "text": "REG point", "align": "left", "fontSize": 15, "color": "#333333"},
          "encoding": {"x": {"datum": 9, "type": "quantitative"}, "y": {"datum": 19.45, "type": "quantitative"}}
        },
        {
          "data": {"values": [{}]},
          "mark": {"type": "text", "text": "REG point 0", "align": "left", "fontSize": 15, "color": "#333333"},
          "encoding": {"x": {"datum": 9, "type": "quantitative"}, "y": {"datum": 18.5, "type": "quantitative"}}
        },
        {
          "data": {"values": [{}]},
          "mark": {"type": "text", "text": "REG point repeated", "align": "left", "fontSize": 15, "color": "#333333"},
          "encoding": {"x": {"datum": 9, "type": "quantitative"}, "y": {"datum": 17.5, "type": "quantitative"}}
        }
      ]
    },
    {
      "width": 117, "height": 167,
      "view": {"stroke": null},
      "resolve": {"scale": {"x": "independent", "y": "independent"}, "axis": {"x": "independent", "y": "independent"}},
      "layer": [
        {
          "layer": [
            {
              "data": {"name": "mcHist"},
              "mark": {"type": "rect", "fill": "#BEBEBE", "stroke": "white", "strokeWidth": 0.6},
              "encoding": {
                "x": {"field": "lo", "type": "quantitative", "title": ["Dose [Gy]", "valid fits = 100/100"], "scale": {"domain": [-0.9, 36.4], "range": [-15, 108], "nice": false, "zero": false}, "axis": {"orient": "bottom", "offset": -163, "values": [0, 5, 10, 15, 20, 25, 30, 35], "labelOverlap": false, "labelExpr": "abs(datum.value)<0.5||abs(datum.value-10)<0.5||abs(datum.value-25)<0.5?datum.label:''", "labelFontSize": 16, "titleFontSize": 16, "titleLineHeight": 24, "tickSize": 7, "labelPadding": 2, "titlePadding": 3}},
                "x2": {"field": "hi"},
                "y": {"field": "n", "type": "quantitative", "title": "Freq.", "scale": {"domain": [0, 80], "range": [-6, -37], "nice": false, "zero": false}, "axis": {"orient": "left", "offset": 15, "values": [0, 20, 40, 60, 80], "labelOverlap": false, "labelExpr": "datum.value==0?'0':''", "labelFontSize": 16, "titleFontSize": 16, "tickSize": 7, "titlePadding": 6}}
              }
            },
            {
              "data": {"name": "mcCurve"},
              "mark": {"type": "line", "color": "#FF2A00", "strokeDash": [8, 6], "strokeWidth": 1.8},
              "encoding": {
                "x": {"field": "x", "type": "quantitative", "title": ["Dose [Gy]", "valid fits = 100/100"], "axis": {"orient": "bottom", "offset": -163, "values": [0, 5, 10, 15, 20, 25, 30, 35], "labelOverlap": false, "labelExpr": "abs(datum.value)<0.5||abs(datum.value-10)<0.5||abs(datum.value-25)<0.5?datum.label:''", "labelFontSize": 16, "titleFontSize": 16, "titleLineHeight": 24, "tickSize": 7, "labelPadding": 2, "titlePadding": 3}},
                "y": {"field": "y", "type": "quantitative", "title": "Freq."}
              }
            },
            {
              "data": {"values": [{"lab": "MC runs", "x": 16.5, "y": 129}]},
              "mark": {"type": "text", "fontWeight": "bold", "fontSize": 16},
              "encoding": {
                "x": {"field": "x", "type": "quantitative", "title": ["Dose [Gy]", "valid fits = 100/100"], "axis": {"orient": "bottom", "offset": -163, "values": [0, 5, 10, 15, 20, 25, 30, 35], "labelOverlap": false, "labelExpr": "abs(datum.value)<0.5||abs(datum.value-10)<0.5||abs(datum.value-25)<0.5?datum.label:''", "labelFontSize": 16, "titleFontSize": 16, "titleLineHeight": 24, "tickSize": 7, "labelPadding": 2, "titlePadding": 3}},
                "y": {"field": "y", "type": "quantitative", "title": "Freq."},
                "text": {"field": "lab"}
              }
            },
            {
              "data": {"values": [{"lab": "Dₑ,MC = 5.28 ± 6.3", "x": 16.5, "y": 90}, {"lab": "diff. 6.6%", "x": 17.5, "y": 70}]},
              "mark": {"type": "text", "fontSize": 14, "color": "#333333"},
              "encoding": {
                "x": {"field": "x", "type": "quantitative", "title": ["Dose [Gy]", "valid fits = 100/100"], "axis": {"orient": "bottom", "offset": -163, "values": [0, 5, 10, 15, 20, 25, 30, 35], "labelOverlap": false, "labelExpr": "abs(datum.value)<0.5||abs(datum.value-10)<0.5||abs(datum.value-25)<0.5?datum.label:''", "labelFontSize": 16, "titleFontSize": 16, "titleLineHeight": 24, "tickSize": 7, "labelPadding": 2, "titlePadding": 3}},
                "y": {"field": "y", "type": "quantitative", "title": "Freq."},
                "text": {"field": "lab"}
              }
            }
          ]
        },
        {
          "layer": [
            {
              "data": {"name": "sens"},
              "mark": {"type": "line", "color": "black", "strokeWidth": 1.5, "point": {"filled": true, "size": 60, "color": "black"}},
              "encoding": {
                "x": {"field": "c", "type": "quantitative", "title": "#SAR-cycle", "scale": {"domain": [0.85, 6.25], "range": [-15, 108], "nice": false, "zero": false}, "axis": {"orient": "bottom", "offset": 7, "values": [1, 2, 3, 4, 5, 6], "labelOverlap": false, "labelExpr": "datum.value%2==1?datum.label:''", "labelFontSize": 16, "titleFontSize": 16, "tickSize": 7, "labelPadding": 2, "titlePadding": 3}},
                "y": {"field": "r", "type": "quantitative", "title": "Tₓ/Tₙ", "scale": {"domain": [0.8, 1.42], "range": [167, 136], "nice": false, "zero": false}, "axis": {"orient": "left", "offset": 15, "values": [0.8, 0.87, 0.94, 1.01, 1.08, 1.15, 1.22, 1.29, 1.36], "labelOverlap": false, "labelExpr": "datum.value<0.81?'0.0':''", "labelFontSize": 16, "titleFontSize": 16, "tickSize": 7, "titlePadding": 6}}
              }
            },
            {
              "data": {"name": "sens"},
              "mark": {"type": "rect", "fill": "transparent", "stroke": "black", "strokeWidth": 1.4},
              "encoding": {"x": {"aggregate": "min", "field": "c", "type": "quantitative", "scale": {"domain": [0.85, 6.25]}}, "x2": {"datum": 6.25}, "y": {"aggregate": "min", "field": "r", "type": "quantitative"}, "y2": {"datum": 1.42}}
            },
            {
              "data": {"values": [{}]},
              "mark": {"type": "rule", "color": "#BEBEBE", "strokeDash": [6, 4], "strokeWidth": 1.5},
              "encoding": {"y": {"datum": 1.0, "type": "quantitative"}}
            },
            {
              "data": {"values": [{}]},
              "mark": {"type": "text", "text": "Sensitivity", "fontWeight": "bold", "fontSize": 16},
              "encoding": {"x": {"datum": 3.5, "type": "quantitative"}, "y": {"datum": 1.8, "type": "quantitative"}}
            }
          ]
        }
      ]
    },
    {
      "width": 299, "height": 169,
      "title": {"text": "Lₙ,Lₓ curves", "offset": 4},
      "layer": [
        {
          "data": {"values": [{"t": 0.4}, {"t": 40}, {"t": 100}]},
          "mark": {"type": "rule", "color": "#BEBEBE", "strokeDash": [7, 5], "strokeWidth": 1.6},
          "encoding": {"x": {"field": "t", "type": "quantitative"}}
        },
        {
          "data": {"name": "irL"},
          "mark": {"type": "line", "clip": true, "strokeWidth": 1.5},
          "encoding": {
            "x": {"field": "t", "type": "quantitative", "title": "Time [s]", "scale": {"domain": [-4, 104], "nice": false, "zero": false}, "axis": {"values": [0, 20, 40, 60, 80, 100], "labelOverlap": false}},
            "y": {"field": "v", "type": "quantitative", "title": "IRSL [cts/0.4 s]", "scale": {"domain": [-6.3, 282.4], "nice": false, "zero": false}, "axis": {"values": [0, 50, 100, 150, 200, 250], "labelOverlap": false, "labelExpr": "datum.value==0||datum.value==100||datum.value==250?datum.label:''"}},
            "color": {"field": "s", "type": "nominal", "scale": {"domain": ["Natural", "R1", "R2", "R3", "R0", "R5"], "range": ["#000000", "#FF3300", "#6495ED", "#458B00", "#FFB90F", "#8B6914"]}, "legend": null}
          }
        }
      ]
    },
    {
      "width": 299, "height": 169,
      "title": {"text": "Tₙ,Tₓ curves", "offset": 4},
      "layer": [
        {
          "data": {"values": [{"t": 0.4}, {"t": 40}, {"t": 100}]},
          "mark": {"type": "rule", "color": "#BEBEBE", "strokeDash": [7, 5], "strokeWidth": 1.6},
          "encoding": {"x": {"field": "t", "type": "quantitative"}}
        },
        {
          "data": {"name": "irT"},
          "mark": {"type": "line", "clip": true, "strokeWidth": 1.5},
          "encoding": {
            "x": {"field": "t", "type": "quantitative", "title": "Time [s]", "scale": {"domain": [-4, 104], "nice": false, "zero": false}, "axis": {"values": [0, 20, 40, 60, 80, 100], "labelOverlap": false}},
            "y": {"field": "v", "type": "quantitative", "title": "IRSL [cts/0.4 s]", "scale": {"domain": [3.5, 46.8], "nice": false, "zero": false}, "axis": {"values": [10, 20, 30, 40], "labelOverlap": false, "labelExpr": "datum.value==10||datum.value==30?datum.label:''"}},
            "color": {"field": "s", "type": "nominal", "scale": {"domain": ["Natural", "R1", "R2", "R3", "R0", "R5"], "range": ["#000000", "#FF3300", "#6495ED", "#458B00", "#FFB90F", "#8B6914"]}, "legend": null}
          }
        }
      ]
    },
    {
      "width": 299, "height": 169,
      "title": {"text": "TL Peaks (interval: 15 °C)", "fontWeight": "bold", "fontSize": 23, "offset": 24},
      "layer": [
        {
          "data": {"name": "intv"},
          "mark": {"type": "rect", "fill": "#CCFFCC", "y": 0, "y2": 169},
          "encoding": {"x": {"field": "lo", "type": "quantitative"}, "x2": {"field": "hi"}}
        },
        {
          "data": {"name": "pk"},
          "mark": {"type": "line", "clip": true, "strokeWidth": 1.5},
          "encoding": {
            "x": {"field": "T", "type": "quantitative", "title": "Temperature [°C]", "scale": {"domain": [-8.8, 228.8], "nice": false, "zero": false}, "axis": {"values": [0, 50, 100, 150, 200], "labelOverlap": false, "titlePadding": 36}},
            "y": {"field": "v", "type": "quantitative", "title": null, "scale": {"domain": [-80, 2830], "nice": false, "zero": false}, "axis": {"values": [0, 500, 1000, 1500, 2000, 2500], "format": "d", "labelOverlap": false, "labelExpr": "abs(datum.value)<1||abs(datum.value-1000)<1||abs(datum.value-2500)<1?datum.label:''"}},
            "color": {"field": "s", "type": "nominal", "scale": {"domain": ["TL#1", "TL#2"], "range": ["#000000", "#DF536B"]}, "legend": null}
          }
        },
        {
          "data": {"name": "intv"},
          "mark": {"type": "rule", "color": "#D0103A", "strokeDash": [2, 3], "strokeWidth": 1.8},
          "encoding": {"x": {"field": "lo", "type": "quantitative"}}
        },
        {
          "data": {"name": "intv"},
          "mark": {"type": "rule", "color": "#D0103A", "strokeDash": [2, 3], "strokeWidth": 1.8},
          "encoding": {"x": {"field": "hi", "type": "quantitative"}}
        },
        {
          "data": {"name": "intv"},
          "mark": {"type": "rule", "color": "#333333", "strokeDash": [8, 6], "strokeWidth": 1.8},
          "encoding": {"x": {"field": "pk", "type": "quantitative"}}
        },
        {
          "data": {"values": [{"s": "TL#1", "lab": "TL#1 @ 93.7 °C", "T": 63, "v": 2635}, {"s": "TL#2", "lab": "TL#2 @ 94.5 °C", "T": 63, "v": 2397}]},
          "mark": {"type": "point", "shape": "M-1.4,-0.6H1.4V0.6H-1.4Z", "size": 110, "filled": true, "stroke": "black", "strokeWidth": 1, "opacity": 1},
          "encoding": {
            "x": {"field": "T", "type": "quantitative"},
            "y": {"field": "v", "type": "quantitative", "title": null, "axis": {"values": [0, 500, 1000, 1500, 2000, 2500], "format": "d", "labelOverlap": false, "labelExpr": "abs(datum.value)<1||abs(datum.value-1000)<1||abs(datum.value-2500)<1?datum.label:''"}},
            "fill": {"field": "s", "type": "nominal", "scale": {"domain": ["TL#1", "TL#2"], "range": ["#000000", "#DF536B"]}, "legend": null}
          }
        },
        {
          "data": {"values": [{"s": "TL#1", "lab": "TL#1 @ 93.7 °C", "T": 63, "v": 2635}, {"s": "TL#2", "lab": "TL#2 @ 94.5 °C", "T": 63, "v": 2397}]},
          "mark": {"type": "text", "align": "left", "fontSize": 19, "dx": 13},
          "encoding": {
            "x": {"field": "T", "type": "quantitative"},
            "y": {"field": "v", "type": "quantitative", "title": null, "axis": {"values": [0, 500, 1000, 1500, 2000, 2500], "format": "d", "labelOverlap": false, "labelExpr": "abs(datum.value)<1||abs(datum.value-1000)<1||abs(datum.value-2500)<1?datum.label:''"}},
            "text": {"field": "lab"}
          }
        }
      ]
    },
    {
      "width": 117, "height": 169,
      "view": {"stroke": null},
      "title": {"text": "Checks", "fontWeight": "bold", "fontSize": 23, "dx": -29, "offset": 22},
      "data": {"name": "checks"},
      "layer": [
        {
          "mark": {"type": "rule", "color": "#A0A0A0", "strokeWidth": 1, "yOffset": -18, "x": -69, "x2": 118},
          "encoding": {
            "y": {"field": "k", "type": "quantitative", "scale": {"domain": [0, 6], "range": [-3.2, 214]}, "axis": null}
          }
        },
        {
          "mark": {"type": "text", "align": "right", "fontSize": 18, "x": 96},
          "encoding": {"y": {"field": "k", "type": "quantitative"}, "text": {"field": "label"}}
        },
        {
          "mark": {"type": "text", "fontSize": 13, "dy": -11, "x": 55},
          "encoding": {"y": {"field": "k", "type": "quantitative"}, "text": {"field": "crit"}}
        },
        {
          "transform": [{"filter": "datum.st=='ok'"}],
          "mark": {"type": "point", "filled": true, "size": 170, "color": "#61D04F", "opacity": 1, "x": 121},
          "encoding": {"y": {"field": "k", "type": "quantitative"}}
        },
        {
          "transform": [{"filter": "datum.st=='na'"}],
          "mark": {"type": "point", "filled": true, "size": 170, "color": "#9E9E9E", "opacity": 1, "x": 121},
          "encoding": {"y": {"field": "k", "type": "quantitative"}}
        },
        {
          "transform": [{"filter": "datum.st=='fail'"}],
          "mark": {"type": "point", "shape": "M-1,-1L1,1M-1,1L1,-1", "filled": false, "size": 130, "stroke": "#DF536B", "strokeWidth": 1.8, "opacity": 1, "x": 121},
          "encoding": {"y": {"field": "k", "type": "quantitative"}}
        }
      ]
    },
    {
      "width": 299, "height": 60,
      "view": {"stroke": null},
      "layer": [
        {
          "data": {"name": "series"},
          "mark": {"type": "point", "filled": true, "size": 600, "opacity": 1},
          "encoding": {
            "x": {"field": "i", "type": "quantitative", "scale": {"domain": [1, 6], "range": [-27, 1268]}, "axis": null},
            "y": {"datum": 2.5, "type": "quantitative", "scale": {"domain": [0, 4], "range": [60, -69]}, "axis": null},
            "color": {"field": "s", "type": "nominal", "scale": {"domain": ["Natural", "R1", "R2", "R3", "R0", "R5"], "range": ["#000000", "#FF3300", "#6495ED", "#458B00", "#FFB90F", "#8B6914"]}, "legend": null}
          }
        },
        {
          "data": {"name": "series"},
          "mark": {"type": "text", "fontSize": 19},
          "encoding": {"x": {"field": "i", "type": "quantitative"}, "y": {"datum": 1.7, "type": "quantitative"}, "text": {"field": "s"}}
        },
        {
          "data": {"name": "series"},
          "mark": {"type": "text", "fontSize": 19},
          "encoding": {"x": {"field": "i", "type": "quantitative"}, "y": {"datum": 0.9, "type": "quantitative"}, "text": {"field": "dose"}}
        },
        {
          "data": {"name": "series"},
          "transform": [{"aggregate": [{"op": "min", "field": "i", "as": "a"}, {"op": "max", "field": "i", "as": "b"}]}],
          "mark": {"type": "rule", "color": "#444444", "strokeWidth": 1.2, "x": -79, "x2": 1321},
          "encoding": {"y": {"datum": 4, "type": "quantitative"}}
        }
      ]
    }
  ],
  "config": {
    "font": "DejaVu Sans",
    "view": {"stroke": "black", "strokeWidth": 1.4},
    "axis": {"domainColor": "black", "tickColor": "black", "labelColor": "black", "titleColor": "black", "labelFontSize": 20, "titleFontSize": 20, "titleFontWeight": "normal", "grid": false, "tickSize": 8, "domainWidth": 1.2, "tickWidth": 1.2, "offset": 9, "labelPadding": 3, "labelFlush": false, "labelOverlap": false, "titlePadding": 11},
    "axisY": {"labelAngle": -90, "labelAlign": "center", "labelBaseline": "bottom", "titlePadding": 15},
    "title": {"fontSize": 22, "fontWeight": "normal", "color": "black", "subtitleColor": "black", "anchor": "middle", "frame": "group", "offset": 12},
    "text": {"color": "black"}
  }
}
